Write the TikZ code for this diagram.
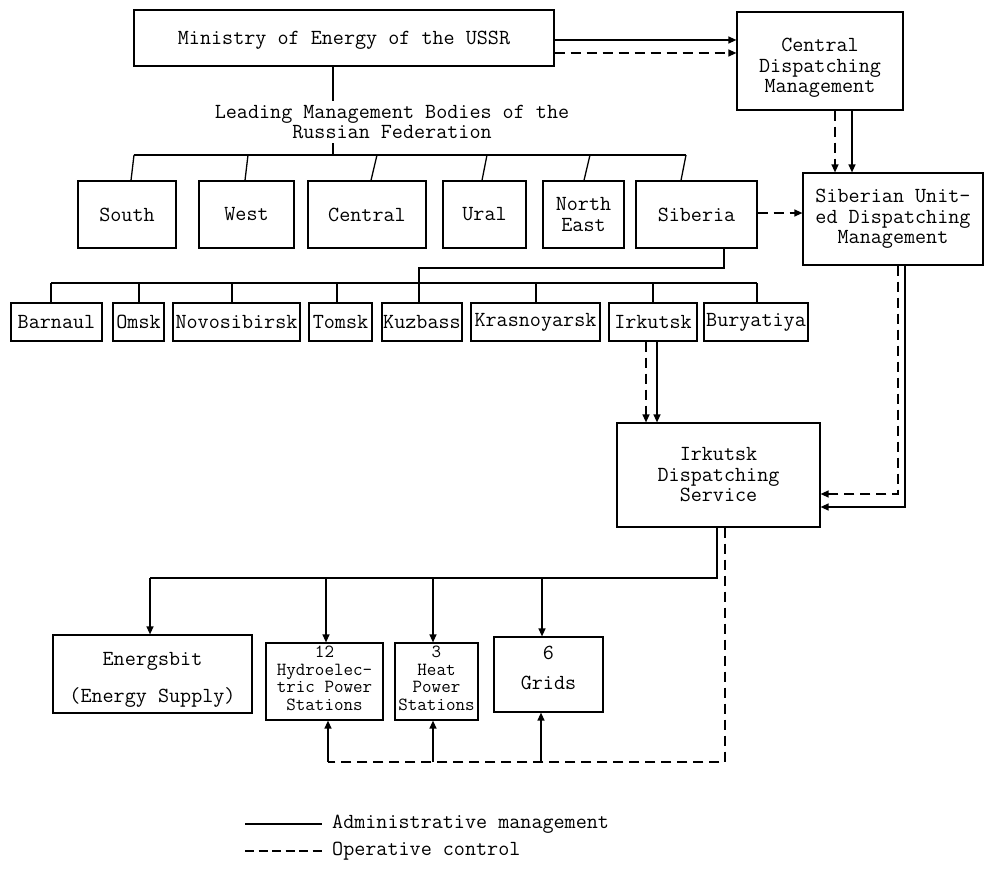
\documentclass[tikz,border=0pt]{standalone}
\usetikzlibrary{arrows.meta}
\begin{document}
\begin{tikzpicture}[x=1pt,y=-1pt,
  every node/.style={font=\ttfamily\fontsize{21.5}{20.5}\selectfont, inner sep=0pt},
  box/.style={draw, line width=1.2pt, align=center},
  small/.style={font=\ttfamily\fontsize{18.5}{17.5}\selectfont, align=center},
  adm/.style={line width=1.3pt},
  op/.style={line width=1.3pt, dash pattern=on 10pt off 6pt},
  tip/.style={-{Triangle[length=8pt,width=7pt]}}]
\useasboundingbox (0,0) rectangle (989,875);

% ---- top level
\node[box, minimum width=420pt, minimum height=56pt] (min) at (344,38) {};
\node (mintxt) at (344,40) {Ministry of Energy of the USSR};
\node[box, minimum width=166pt, minimum height=98pt] (cdm) at (820,61) {};
\node[align=center] (cdmtxt) at (820,68) {Central\\Dispatching\\Management};
\node[box, minimum width=180pt, minimum height=92pt] (sud) at (893,219) {Siberian Unit-\\ed Dispatching\\Management};
\node[align=center] (lead) at (392,122) {Leading Management Bodies of the\\Russian Federation};

% ---- regional bodies
\foreach \nm/\cx/\w/\txt in {south/127/98/South, west/246.5/95/West, central/367/118/Central,
    ural/484.5/83/Ural, ne/583.5/81/North\\East, sib/696.5/121/Siberia}
  \node[box, minimum width=\w pt, minimum height=67pt] (\nm) at (\cx,214.5) {\txt};

% ---- Siberian energy systems
\foreach \nm/\cx/\w/\txt in {bar/56.5/91/Barnaul, omsk/138.5/51/Omsk, nov/236.5/127/Novosibirsk,
    tom/340.5/63/Tomsk, kuz/422/80/Kuzbass, kra/535.5/129/Krasnoyarsk,
    irk/653/88/Irkutsk, bur/756/104/Buryatiya}
  \node[box, minimum width=\w pt, minimum height=38pt] (\nm) at (\cx,322) {\txt};

% ---- Irkutsk level
\node[box, minimum width=203pt, minimum height=104pt] (ids) at (718.5,475) {Irkutsk\\Dispatching\\Service};
\node[box, minimum width=199pt, minimum height=78pt] (ens) at (152.5,674) {};
\node[align=center] (enstxt) at (152.5,680) {Energsbit\\[17pt](Energy Supply)};
\node[box, minimum width=117pt, minimum height=77pt] (hyd) at (324.5,681.5) {};
\node[small] (hydtxt) at (324.5,678.5) {12\\Hydroelec-\\tric Power\\Stations};
\node[box, minimum width=83pt, minimum height=77pt] (heat) at (436.5,681.5) {};
\node[small] (heattxt) at (436.5,678.5) {3\\Heat\\Power\\Stations};
\node[box, minimum width=109pt, minimum height=75pt] (grid) at (548.5,674.5) {};
\node[align=center] (gridtxt) at (548.5,668) {6\\[9pt]Grids};

% ---- Ministry links
\draw[adm,tip] ([yshift=-2pt]min.east) -- ([yshift=-2pt]min.east -| cdm.west);
\draw[op,tip] ([yshift=-15pt]min.east) -- ([yshift=-15pt]min.east -| cdm.west);
\draw[op,tip] ([xshift=15pt]cdm.south) -- ([xshift=15pt]cdm.south |- sud.north);
\draw[adm,tip] ([xshift=32pt]cdm.south) -- ([xshift=32pt]cdm.south |- sud.north);
\draw[op,tip] ([yshift=1.5pt]sib.east) -- ([yshift=1.5pt]sib.east -| sud.west);

% ---- Ministry to the regional bodies
\draw[adm] ([xshift=-11pt]min.south) -- ++(0,34);
\coordinate (t0) at (333,155);
\draw[adm] (333,143) -- (t0);
\coordinate (t1) at (134,155);
\coordinate (t2) at (248,155);
\coordinate (t3) at (377,155);
\coordinate (t4) at (487,155);
\coordinate (t5) at (590,155);
\coordinate (t6) at (686,155);
\draw[adm] (t1) -- (t6);
\draw[adm] (t1) -- ([xshift=4pt]south.north);
\draw[adm] (t2) -- ([xshift=-1.5pt]west.north);
\draw[adm] (t3) -- ([xshift=4pt]central.north);
\draw[adm] (t4) -- ([xshift=-2.5pt]ural.north);
\draw[adm] (t5) -- ([xshift=0.5pt]ne.north);
\draw[adm] (t6) -- ([xshift=-15.5pt]sib.north);

% ---- Siberia to its energy systems
\coordinate (kz) at (419,268);
\draw[adm] ([xshift=27.5pt]sib.south) |- (kz) -- ([xshift=-3pt]kuz.north);
\coordinate (b1) at (51,283);
\coordinate (b2) at (139,283);
\coordinate (b3) at (232,283);
\coordinate (b4) at (337,283);
\coordinate (b5) at (536,283);
\coordinate (b6) at (653,283);
\coordinate (b7) at (757,283);
\draw[adm] (b1) -- (b7);
\draw[adm] (b1) -- (b1 |- bar.north);
\draw[adm] (b2) -- (b2 |- omsk.north);
\draw[adm] (b3) -- (b3 |- nov.north);
\draw[adm] (b4) -- (b4 |- tom.north);
\draw[adm] (b5) -- (b5 |- kra.north);
\draw[adm] (b6) -- (b6 |- irk.north);
\draw[adm] (b7) -- (b7 |- bur.north);

% ---- links into the Irkutsk Dispatching Service
\draw[op,tip] ([xshift=-7pt]irk.south) -- ([xshift=-7pt]irk.south |- ids.north);
\draw[adm,tip] ([xshift=4pt]irk.south) -- ([xshift=4pt]irk.south |- ids.north);
\draw[op,tip] ([xshift=5pt]sud.south) |- ([yshift=-19pt]ids.east);
\draw[adm,tip] ([xshift=12pt]sud.south) |- ([yshift=-32pt]ids.east);

% ---- administrative links downwards
\coordinate (aR) at (717,578);
\coordinate (a1) at (150,578);
\coordinate (a2) at (326,578);
\coordinate (a3) at (433,578);
\coordinate (a4) at (542,578);
\draw[adm] ([xshift=-1.5pt]ids.south) -- (aR) -- (a1);
\draw[adm,tip] (a1) -- (a1 |- ens.north);
\draw[adm,tip] (a2) -- (a2 |- hyd.north);
\draw[adm,tip] (a3) -- (a3 |- heat.north);
\draw[adm,tip] (a4) -- (a4 |- grid.north);

% ---- operative control of the stations and grids
\coordinate (oR) at (725,762);
\coordinate (o1) at (328,762);
\coordinate (o2) at (433,762);
\coordinate (o3) at (541,762);
\draw[op] ([xshift=6.5pt]ids.south) -- (oR) -- (o1);
\draw[adm,tip] (o1) -- (o1 |- hyd.south);
\draw[adm,tip] (o2) -- (o2 |- heat.south);
\draw[adm,tip] (o3) -- (o3 |- grid.south);

% ---- legend
\coordinate (l1a) at (245,824);
\coordinate (l1b) at (322,824);
\coordinate (l2a) at (245,851);
\coordinate (l2b) at (322,851);
\draw[adm] (l1a) -- (l1b);
\draw[line width=1.3pt, dash pattern=on 9pt off 4.5pt] (l2a) -- (l2b);
\node[anchor=west] (ladm) at (332,824) {Administrative management};
\node[anchor=west] (lop) at (332,851) {Operative control};
\end{tikzpicture}
\end{document}
